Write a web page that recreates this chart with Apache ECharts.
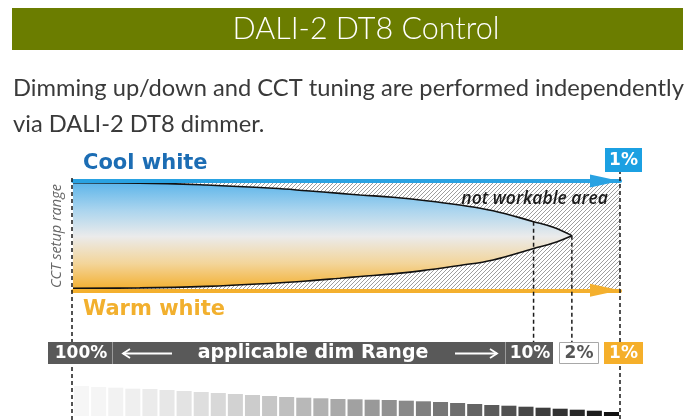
<!DOCTYPE html>
<html><head><meta charset="utf-8">
<script src="https://cdn.jsdelivr.net/npm/echarts@6/dist/echarts.min.js"></script>
<style>html,body{margin:0;padding:0;background:#fff}#c{width:693px;height:420px}</style>
</head><body><div id="c"></div>
<script>
// ---- text ----
const titleText = 'DALI-2 DT8 Control';
const descLines = ['Dimming up/down and CCT tuning are performed independently', 'via DALI-2 DT8 dimmer.'];
const coolLabel = 'Cool white';
const warmLabel = 'Warm white';
const cctAxisLabel = 'CCT setup range';
const areaLabel = 'not workable area';
const rangeLabel = 'applicable dim Range';
// ---- dimming scale: position along the dim axis (0 = 100 %, 100 = 1 %) ----
const dimLabels = ['100%', '10%', '2%', '1%'];
const dimMarks = [0, 84.2, 91.2, 100];
// ---- CCT tuning envelope (CCT % : 0 = warm, 100 = cool) ----
const lensX =     [0,    12.2, 24.4, 36.6, 42.7, 48.8, 52.5, 58.5, 64.6, 70.7, 76.8, 84.2, 87.8, 91.2];
const lensUpper = [98.4, 98.1, 96.3, 93.3, 91.1, 88.7, 87.2, 85.1, 82.0, 78.0, 72.8, 62.8, 57.6, 50];
const lensLower = [1.9,  2.2,  3.6,  6.5,  8.5,  11.0, 12.6, 15.0, 18.5, 22.7, 27.8, 38.3, 43.3, 50];
// ---- brightness steps (bottom row) ----
const stepLevels = [30, 29, 28.3, 27.3, 27, 26, 25, 24, 23, 22, 21, 20, 19, 18.3, 17.7, 17,
  16.7, 16.3, 16, 15.3, 14.7, 14, 13, 12, 11, 10.3, 9.3, 8.3, 7.3, 6.3, 5.3, 4];
const stepCats = stepLevels.map((v, i) => 'S' + (i + 1));

// hatch pattern
const T = 4;
const pc = document.createElement('canvas');
pc.width = T; pc.height = T;
const g = pc.getContext('2d');
g.fillStyle = '#ffffff'; g.fillRect(0, 0, T, T);
g.strokeStyle = '#858585'; g.lineWidth = 0.8;
g.beginPath();
g.moveTo(-1, T + 1); g.lineTo(T + 1, -1);
g.moveTo(-1, 1); g.lineTo(1, -1);
g.moveTo(T - 1, T + 1); g.lineTo(T + 1, T - 1);
g.stroke();
const hatch = {image: pc, repeat: 'repeat'};

const chart = echarts.init(document.getElementById('c'), null, {renderer: 'canvas'});
const axisCommon = {type: 'value', gridIndex: 0, min: 0, max: 100, z: 5,
  axisTick: {show: false}, axisLabel: {show: false}, splitLine: {show: false}};
const option = {
  animation: false,
  backgroundColor: '#ffffff',
  grid: [
    {left: 73, right: 73, top: 181, bottom: 129.7},
    {left: 73, right: 73, top: 386, bottom: 4}
  ],
  xAxis: [
    Object.assign({}, axisCommon, {position: 'bottom',
     axisLine: {show: true, onZero: false, lineStyle: {color: '#f4b02e', width: 4},
       symbol: ['none', 'triangle'], symbolSize: [13, 30], symbolOffset: [0, -15]}}),
    Object.assign({}, axisCommon, {position: 'top',
     axisLine: {show: true, onZero: false, lineStyle: {color: '#29a2e2', width: 4},
       symbol: ['none', 'triangle'], symbolSize: [13, 30], symbolOffset: [0, -15]}}),
    {type: 'category', gridIndex: 1, data: stepCats, show: false}
  ],
  yAxis: [
    {type: 'value', gridIndex: 0, min: 0, max: 100, show: false},
    {type: 'value', gridIndex: 1, min: 0, max: 30, show: false}
  ],
  series: [
    {type: 'line', xAxisIndex: 0, yAxisIndex: 0, silent: true, symbol: 'none',
     data: [[0, 100], [100, 100]], lineStyle: {width: 0},
     areaStyle: {color: hatch, opacity: 1, origin: 'start'}, z: 1},
    {type: 'line', xAxisIndex: 0, yAxisIndex: 0, symbol: 'none', smooth: 0.4,
     data: lensX.map((x, i) => [x, lensUpper[i]]), lineStyle: {color: '#111', width: 1.6},
     areaStyle: {opacity: 1, origin: 'start', color: new echarts.graphic.LinearGradient(0, 0, 0, 1, [
       {offset: 0, color: '#5db5ea'}, {offset: 0.25, color: '#a9d4ee'},
       {offset: 0.5, color: '#ebebeb'}, {offset: 0.75, color: '#f3d59a'},
       {offset: 1, color: '#f3ae2c'}])}, z: 2},
    {type: 'line', xAxisIndex: 0, yAxisIndex: 0, symbol: 'none', smooth: 0.4,
     data: lensX.map((x, i) => [x, lensLower[i]]), lineStyle: {color: '#111', width: 1.6},
     areaStyle: {opacity: 1, origin: 'start', color: hatch}, z: 3},
    {type: 'bar', xAxisIndex: 2, yAxisIndex: 1, data: stepLevels, barCategoryGap: '12%',
     itemStyle: {color: p => {
       const v = Math.round(246 - 228 * Math.pow(p.dataIndex / (stepLevels.length - 1), 1.5));
       return 'rgb(' + v + ',' + v + ',' + v + ')';
     }}}
  ]
};
chart.setOption(option);

function px(v) { return chart.convertToPixel({xAxisIndex: 0}, v); }
function py(v) { return chart.convertToPixel({yAxisIndex: 0}, v); }
function upperAt(x) { const i = lensX.indexOf(x); return i >= 0 ? lensUpper[i] : 100; }

const dash = {stroke: '#1a1a1a', lineWidth: 1.5, lineDash: [4, 3]};
const els = [];
// banner
els.push({type: 'rect', shape: {x: 12, y: 8, width: 671, height: 42}, style: {fill: '#6b7d00'}, z: 10});
els.push({type: 'text', x: 366, y: 29, z: 11, style: {text: titleText, fill: '#ffffff',
  font: '300 30.5px Lato, "Open Sans", sans-serif', align: 'center', verticalAlign: 'middle'}});
els.push({type: 'text', x: 13, y: 88, z: 11, style: {text: descLines[0], fill: '#3a3a3a',
  font: '23.7px Lato, "Open Sans", sans-serif', verticalAlign: 'middle'}});
els.push({type: 'text', x: 13, y: 124, z: 11, style: {text: descLines[1], fill: '#3a3a3a',
  font: '23.7px Lato, "Open Sans", sans-serif', verticalAlign: 'middle'}});
els.push({type: 'text', x: 83, y: 163.5, z: 11, style: {text: coolLabel, fill: '#1c6db4',
  font: 'bold 21px "DejaVu Sans", sans-serif', verticalAlign: 'middle'}});
els.push({type: 'text', x: 83, y: 309.5, z: 11, style: {text: warmLabel, fill: '#f2b02e',
  font: 'bold 21px "DejaVu Sans", sans-serif', verticalAlign: 'middle'}});
els.push({type: 'text', x: 57, y: 236, rotation: Math.PI / 2, z: 11, style: {text: cctAxisLabel, fill: '#666',
  font: 'italic 14.5px "Open Sans", sans-serif', align: 'center', verticalAlign: 'middle'}});
els.push({type: 'text', x: 608, y: 199, z: 11, style: {text: areaLabel, fill: '#1a1a1a',
  font: 'italic 600 17.5px "Open Sans", sans-serif', align: 'right', verticalAlign: 'middle'}});
// dashed markers
const xs = dimMarks.map(px);
els.push({type: 'line', z: 9, shape: {x1: xs[0] - 1, y1: 178, x2: xs[0] - 1, y2: 420}, style: dash});
els.push({type: 'line', z: 9, shape: {x1: xs[1], y1: py(upperAt(dimMarks[1])), x2: xs[1], y2: 342}, style: dash});
els.push({type: 'line', z: 9, shape: {x1: xs[2], y1: py(upperAt(dimMarks[2])), x2: xs[2], y2: 342}, style: dash});
els.push({type: 'line', z: 9, shape: {x1: xs[3], y1: 170, x2: xs[3], y2: 420}, style: dash});
// top 1% box
els.push({type: 'rect', z: 12, shape: {x: 605, y: 148, width: 37, height: 24}, style: {fill: '#1ba0e2'}});
els.push({type: 'text', z: 13, x: 623.5, y: 160.5, style: {text: dimLabels[3], fill: '#fff',
  font: 'bold 17px "DejaVu Sans", sans-serif', align: 'center', verticalAlign: 'middle'}});
// dim range bar
els.push({type: 'rect', z: 12, shape: {x: 48, y: 342, width: 505, height: 22}, style: {fill: '#595959'}});
els.push({type: 'line', z: 13, shape: {x1: 112.5, y1: 342, x2: 112.5, y2: 364}, style: {stroke: '#9a9a9a', lineWidth: 1}});
els.push({type: 'line', z: 13, shape: {x1: 505.5, y1: 342, x2: 505.5, y2: 364}, style: {stroke: '#9a9a9a', lineWidth: 1}});
els.push({type: 'text', z: 13, x: 81, y: 353.5, style: {text: dimLabels[0], fill: '#fff',
  font: 'bold 17px "DejaVu Sans", sans-serif', align: 'center', verticalAlign: 'middle'}});
els.push({type: 'text', z: 13, x: 530, y: 353.5, style: {text: dimLabels[1], fill: '#fff',
  font: 'bold 17px "DejaVu Sans", sans-serif', align: 'center', verticalAlign: 'middle'}});
els.push({type: 'text', z: 13, x: 313, y: 353.5, style: {text: rangeLabel, fill: '#fff',
  font: 'bold 19px "DejaVu Sans", sans-serif', align: 'center', verticalAlign: 'middle'}});
const arr = {stroke: '#fff', lineWidth: 1.8, fill: null};
els.push({type: 'line', z: 13, shape: {x1: 123, y1: 353.5, x2: 172, y2: 353.5}, style: arr});
els.push({type: 'polyline', z: 13, shape: {points: [[130, 349], [123, 353.5], [130, 358]]}, style: arr});
els.push({type: 'line', z: 13, shape: {x1: 455, y1: 353.5, x2: 497, y2: 353.5}, style: arr});
els.push({type: 'polyline', z: 13, shape: {points: [[490, 349], [497, 353.5], [490, 358]]}, style: arr});
els.push({type: 'rect', z: 12, shape: {x: 559.5, y: 342.5, width: 39, height: 21}, style: {fill: '#fff', stroke: '#a8a8a8', lineWidth: 1}});
els.push({type: 'text', z: 13, x: 579, y: 353.5, style: {text: dimLabels[2], fill: '#555',
  font: 'bold 17px "DejaVu Sans", sans-serif', align: 'center', verticalAlign: 'middle'}});
els.push({type: 'rect', z: 12, shape: {x: 604, y: 342, width: 39, height: 22}, style: {fill: '#f5af2a'}});
els.push({type: 'text', z: 13, x: 623.5, y: 353.5, style: {text: dimLabels[3], fill: '#fff',
  font: 'bold 17px "DejaVu Sans", sans-serif', align: 'center', verticalAlign: 'middle'}});

chart.setOption({graphic: els.map((e, i) => Object.assign({id: 'g' + i}, e))});
</script>
</body></html>
